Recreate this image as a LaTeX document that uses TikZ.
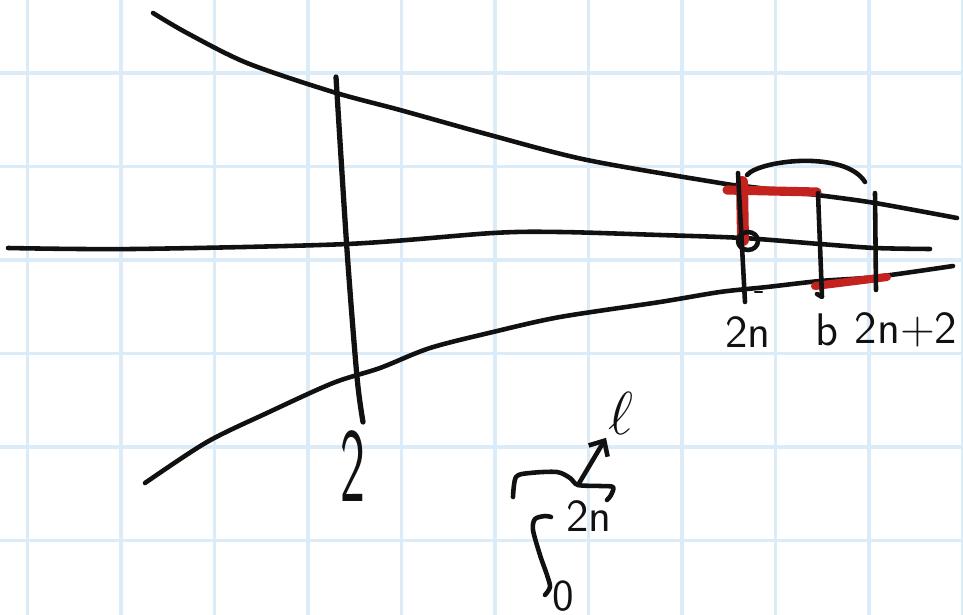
\documentclass[tikz,border=0pt]{standalone}
\usetikzlibrary{arrows.meta}
\definecolor{sketchInk}{HTML}{111111}
\definecolor{sketchRed}{HTML}{C4221F}
\definecolor{sketchGrid}{HTML}{DCEBF8}
\tikzset{
  every picture/.style={font=\sffamily\fontsize{13}{13}\selectfont, text=sketchInk},
  sketch grid/.style={draw=sketchGrid, line width=1.1pt},
  sketch ink/.style={draw=sketchInk, line width=1.3pt, line cap=round, line join=round},
  sketch red/.style={draw=sketchRed, line width=2.6pt, line cap=round},
  sketch label/.style={inner sep=0pt, text=sketchInk}
}
\begin{document}
\begin{tikzpicture}[x=0.01cm,y=-0.01cm]
  \useasboundingbox (0,0) rectangle (963,615);
  % squared paper
  \foreach \gx in {0,...,10}
    \draw[sketch grid] ({27.5+93.5*\gx},0) -- ++(0,615);
  \foreach \gy in {0,...,5}
    \draw[sketch grid] (0,{73+93.5*\gy}) -- ++(963,0);

  % three long curves
  \draw[sketch ink] plot[smooth] coordinates {(153,13) (187,33) (247,63) (333,92) (400,110) (490,135)
    (587,160) (720,183) (743,186) (817,195) (875,203) (957,218)};
  \draw[sketch ink] plot[smooth] coordinates {(8,248) (133,249) (347,244) (493,233) (560,232)
    (660,235) (743,238) (820,244) (875,248) (930,249)};
  \draw[sketch ink] plot[smooth] coordinates {(145,483) (207,442) (267,413) (333,383) (380,368) (430,348)
    (493,332) (560,317) (660,302) (720,292) (767,287) (820,281) (875,277) (953,266)};

  % left cut
  \draw[sketch ink, line width=1.5pt] plot[smooth] coordinates {(336,77) (347,250) (357,377) (363,422)};
  \node[sketch label, font=\sffamily\fontsize{30}{30}\selectfont] (leftTwo) at (353,466) {\scalebox{0.5}[1]{2}};

  % red marks
  \draw[sketch red, line width=3.4pt] (742,182) -- (743,240);
  \draw[sketch red] (727,190) -- (817,192);
  \draw[sketch red, line width=2.3pt] (815,286) -- (887,277);

  % right cuts
  \draw[sketch ink] (738,173) -- (745,302);
  \draw[sketch ink] (748,241) ellipse [x radius=10, y radius=9];
  \draw[sketch ink, line width=0.6pt] (755,292) -- (762,292);
  \draw[sketch ink] (818,193) -- (822,297) -- (817,294);
  \draw[sketch ink] (875,193) -- (876,290);
  \draw[sketch ink] (747,175) .. controls (760,160) and (845,150) .. (865,182);

  \node[sketch label] (twoN) at (748,332) {2n};
  \node[sketch label] (bLabel) at (827,330) {b};
  \node[sketch label] (twoNtwo) at (906,330) {2n+2};

  % small bracket sketch
  \draw[sketch ink] plot[smooth] coordinates {(513,497) (516,477) (530,473) (557,472) (570,478) (578,485)
    (600,486) (613,487) (611,495) (607,500)};
  \draw[sketch ink] plot[smooth] coordinates {(551,517) (545,516) (535,519) (533,530) (540,555) (547,575)
    (550,587) (545,595)};
  \node[sketch label, font=\fontsize{17}{17}\selectfont] (ell) at (621,413) {$\ell$};
  \node[sketch label] (twoNlow) at (589,516) {2n};
  \node[sketch label, font=\sffamily\fontsize{12.5}{12.5}\selectfont] (zero) at (563,596) {0};
  \coordinate (bracketTip) at (578,485);
  \draw[sketch ink, -{Straight Barb[length=1.2mm,width=2.2mm]}, shorten >=1pt] (bracketTip) -- (ell.south west);
\end{tikzpicture}
\end{document}
